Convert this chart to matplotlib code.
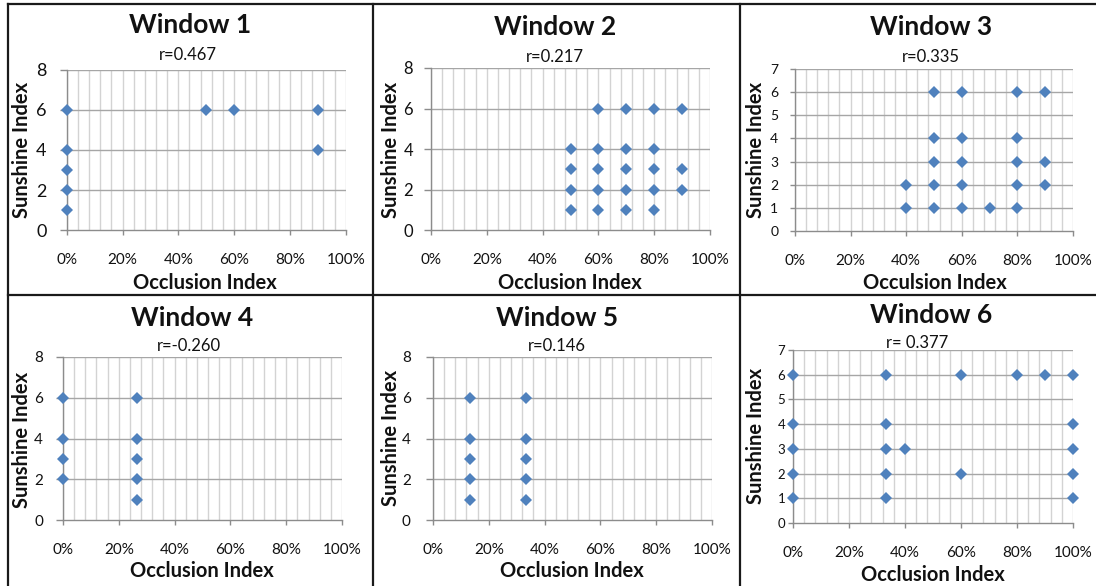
import matplotlib
matplotlib.use("Agg")
import matplotlib.pyplot as plt
from matplotlib.lines import Line2D
import numpy as np

plt.rcParams["font.family"] = ["Lato", "DejaVu Sans"]

# ---- data -------------------------------------------------------------
titles = ["Window 1", "Window 2", "Window 3", "Window 4", "Window 5", "Window 6"]
r_labels = ["r=0.467", "r=0.217", "r=0.335", "r=-0.260", "r=0.146", "r= 0.377"]
x_labels = ["Occlusion Index", "Occlusion Index", "Occulsion Index",
            "Occlusion Index", "Occlusion Index", "Occlusion Index"]
y_label = "Sunshine Index"

w1_x = [0, 0, 0, 0, 0, 0.5, 0.6, 0.9, 0.9]
w1_y = [6, 4, 3, 2, 1, 6, 6, 6, 4]

w2_x = [0.5, 0.5, 0.5, 0.5,
        0.6, 0.6, 0.6, 0.6, 0.6,
        0.7, 0.7, 0.7, 0.7, 0.7,
        0.8, 0.8, 0.8, 0.8, 0.8,
        0.9, 0.9, 0.9]
w2_y = [4, 3, 2, 1,
        6, 4, 3, 2, 1,
        6, 4, 3, 2, 1,
        6, 4, 3, 2, 1,
        6, 3, 2]

w3_x = [0.4, 0.4,
        0.5, 0.5, 0.5, 0.5, 0.5,
        0.6, 0.6, 0.6, 0.6, 0.6,
        0.7,
        0.8, 0.8, 0.8, 0.8, 0.8,
        0.9, 0.9, 0.9]
w3_y = [2, 1,
        6, 4, 3, 2, 1,
        6, 4, 3, 2, 1,
        1,
        6, 4, 3, 2, 1,
        6, 3, 2]

w4_x = [0, 0, 0, 0, 0.267, 0.267, 0.267, 0.267, 0.267]
w4_y = [6, 4, 3, 2, 6, 4, 3, 2, 1]

w5_x = [0.133, 0.133, 0.133, 0.133, 0.133, 0.333, 0.333, 0.333, 0.333, 0.333]
w5_y = [6, 4, 3, 2, 1, 6, 4, 3, 2, 1]

w6_x = [0, 0, 0, 0, 0,
        0.333, 0.333, 0.333, 0.333, 0.333,
        0.4,
        0.6, 0.6,
        0.8, 0.9,
        1.0, 1.0, 1.0, 1.0, 1.0]
w6_y = [6, 4, 3, 2, 1,
        6, 4, 3, 2, 1,
        3,
        6, 2,
        6, 6,
        6, 4, 3, 2, 1]

series_x = [w1_x, w2_x, w3_x, w4_x, w5_x, w6_x]
series_y = [w1_y, w2_y, w3_y, w4_y, w5_y, w6_y]
y_max = [8, 8, 7, 8, 8, 7]
y_step = [2, 2, 1, 2, 2, 1]
x_ticks = [0, 0.2, 0.4, 0.6, 0.8, 1.0]
x_tick_text = ["0%", "20%", "40%", "60%", "80%", "100%"]

# ---- layout (pixels) --------------------------------------------------
W, H = 1096, 586
# left, right, top, bottom of each plot area
boxes = [(66.7, 345.7, 70, 230), (431, 710, 68, 230), (795, 1073, 69, 231),
         (63, 342, 357, 520), (433, 712, 357, 520), (793, 1073, 350, 523)]
title_pos = [(190, 25), (555, 27), (931, 27), (192, 318), (557, 318), (931, 315)]
r_pos = [(188, 55), (555, 57), (931, 57), (189, 346), (557, 346), (917, 343)]
ylab_pos = [(22, 150), (391, 150), (756, 150), (22, 440), (391, 438), (756, 436)]
xlab_pos = [(205, 283), (570, 283), (935, 283), (202, 571), (572, 571), (933, 575)]
ytick_size = [13, 12, 10, 11, 11, 9.5]
ytick_pad = [9.4, 8, 8.6, 9.4, 11, 2]
ytick_len = [5, 5, 3.5, 5, 5, 3.5]

MARKER = "#4F81BD"
GRID_V = "#D3D3D3"
GRID_H = "#A6A6A6"
AXIS = "#8C8C8C"
TEXT = "#111111"

fig = plt.figure(figsize=(W / 100, H / 100), dpi=100)
fig.patch.set_facecolor("white")


def fx(px):
    return px / W


def fy(py):
    return 1 - py / H


for i in range(6):
    l, r, t, b = boxes[i]
    ax = fig.add_axes([fx(l), fy(b), (r - l) / W, (b - t) / H])
    ax.set_xlim(0, 1)
    ax.set_ylim(0, y_max[i])

    # minor vertical grid every 4 %
    for gx in np.linspace(0, 1, 26):
        ax.axvline(gx, color=GRID_V, lw=1.0, zorder=1)
    yt = np.arange(0, y_max[i] + 0.5, y_step[i])
    for gy in yt[1:]:
        ax.axhline(gy, color=GRID_H, lw=1.0, zorder=1.5)

    for s in ("top", "right"):
        ax.spines[s].set_visible(False)
    for s in ("left", "bottom"):
        ax.spines[s].set_color(AXIS)
        ax.spines[s].set_linewidth(1.0)

    ax.set_xticks(x_ticks)
    ax.set_xticklabels(x_tick_text)
    ax.set_yticks(yt)
    ax.set_yticklabels([str(int(v)) for v in yt])
    ax.tick_params(axis="x", direction="out", length=3.6, width=1.0,
                   color=AXIS, pad=13, labelsize=11, labelcolor=TEXT)
    ax.tick_params(axis="y", direction="out", length=ytick_len[i], width=1.0,
                   color=AXIS, pad=ytick_pad[i], labelsize=ytick_size[i],
                   labelcolor=TEXT)

    ax.plot(series_x[i], series_y[i], linestyle="none", marker="D",
            markersize=6.0, markerfacecolor=MARKER, markeredgewidth=0,
            clip_on=False, zorder=5)

    fig.text(fx(title_pos[i][0]), fy(title_pos[i][1]), titles[i],
             ha="center", va="center", fontsize=19, fontweight="bold",
             color=TEXT)
    fig.text(fx(r_pos[i][0]), fy(r_pos[i][1]), r_labels[i],
             ha="center", va="center", fontsize=12, color=TEXT)
    fig.text(fx(ylab_pos[i][0]), fy(ylab_pos[i][1]), y_label,
             ha="center", va="center", rotation=90, fontsize=14.5,
             fontweight="bold", color=TEXT)
    fig.text(fx(xlab_pos[i][0]), fy(xlab_pos[i][1]), x_labels[i],
             ha="center", va="center", fontsize=14.5, fontweight="bold",
             color=TEXT)

# table cell borders
BORDER = "#1A1A1A"
frame = [((7.5, 7.5), (3.5, 586)),
         ((7.5, 1096), (3.5, 3.5)),
         ((373, 373), (3.5, 586)),
         ((739.5, 739.5), (3.5, 586)),
         ((7.5, 1096), (294.5, 294.5))]
for xs, ys in frame:
    fig.add_artist(Line2D([fx(xs[0]), fx(xs[1])], [fy(ys[0]), fy(ys[1])],
                          transform=fig.transFigure, color=BORDER, lw=1.6))

fig.savefig("out.png", dpi=100)
